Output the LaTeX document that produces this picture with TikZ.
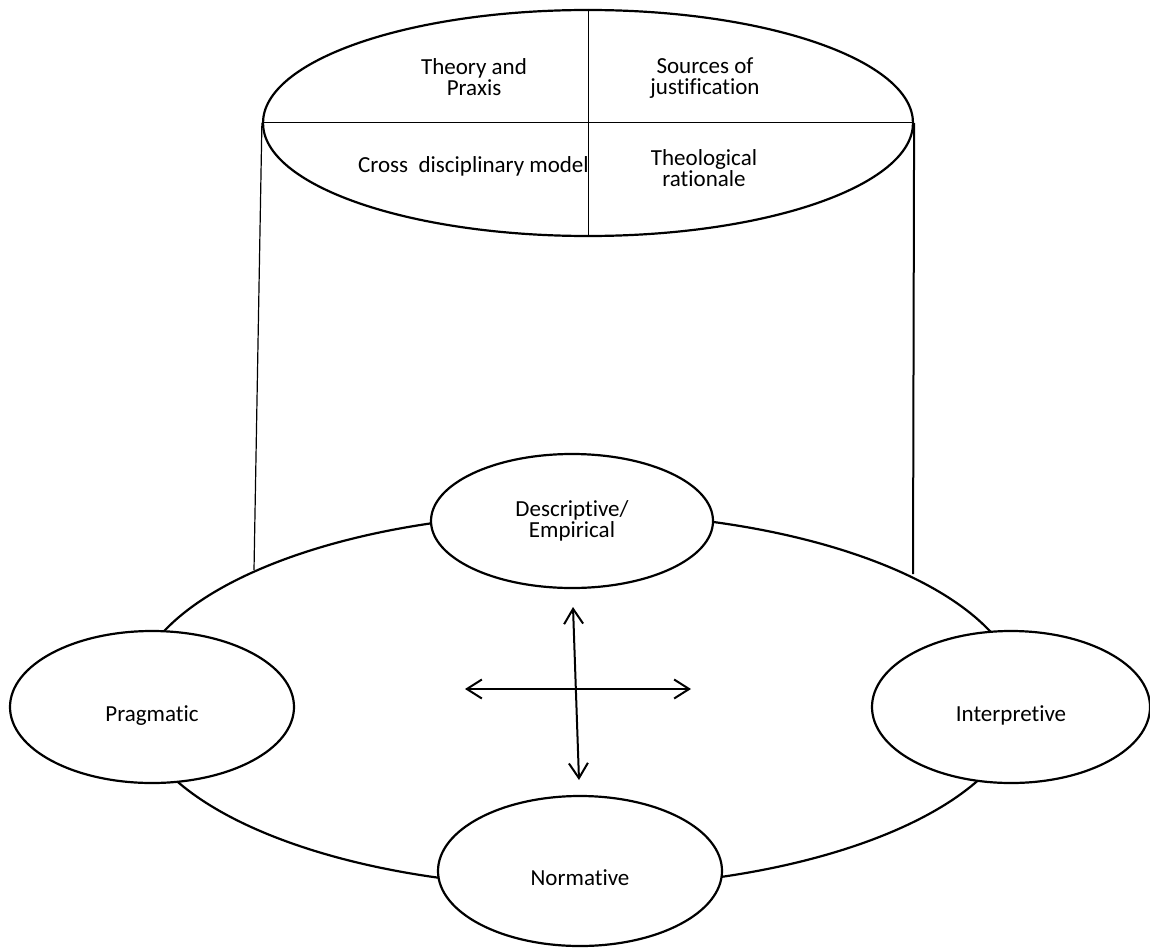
\documentclass[tikz,border=0pt]{standalone}
\usepackage{fontspec}
\setmainfont{Carlito}[Ligatures=NoCommon]
\usetikzlibrary{shapes.geometric,arrows.meta}
\begin{document}
\begin{tikzpicture}[x=1pt,y=-1pt,
  every node/.style={font=\fontsize{23}{21}\selectfont},
  oval/.style={draw,ellipse,line width=2.2pt,inner sep=0pt},
  bubble/.style={oval,fill=white,align=center},
  lowtext/.style={text height=28pt,text depth=0pt},
  label/.style={inner sep=0pt,align=center},
  thinline/.style={line width=1pt},
  dblarrow/.style={line width=2pt,{Straight Barb[length=15pt,width=19pt]}-{Straight Barb[length=15pt,width=19pt]}}]
\useasboundingbox (0,0) rectangle (1150,947);
% top ellipse of the cylinder
\node[oval,minimum width=650pt,minimum height=226pt] (top) at (588,123) {};
\draw[thinline] (top.west) -- (top.east);
\draw[thinline] (top.north) -- (top.south);
\node[label] (tp) at (474,77) {Theory and\\Praxis};
\node[label] (sj) at (705,78.5) {Sources of\\justification};
\node[label,anchor=base west] (cd) at (358,172) {Cross~ disciplinary model};
\node[label] (tr) at (704,168) {Theological\\rationale};
% base ellipse
\node[oval,minimum width=888pt,minimum height=374pt] (base) at (577,700) {};
\coordinate (bl) at (254,570);
\coordinate (br) at (913,574);
\draw[line width=1.2pt] (top.west) -- (bl);
\draw[line width=2pt] (top.east) -- (br);
% four bubbles
\node[bubble,minimum width=282pt,minimum height=134pt] (desc) at (572,521) {Descriptive/\\Empirical};
\node[bubble,lowtext,minimum width=284pt,minimum height=152pt] (prag) at (152,707) {Pragmatic};
\node[bubble,lowtext,minimum width=278pt,minimum height=152pt] (interp) at (1011,707) {Interpretive};
\node[bubble,lowtext,minimum width=284pt,minimum height=150pt] (norm) at (580,871) {Normative};
% cross of arrows
\coordinate (vt) at (573,607);
\coordinate (vb) at (579,780);
\coordinate (hl) at (465,689);
\coordinate (hr) at (691,689);
\draw[dblarrow] (vt) -- (vb);
\draw[dblarrow] (hl) -- (hr);
\end{tikzpicture}
\end{document}
